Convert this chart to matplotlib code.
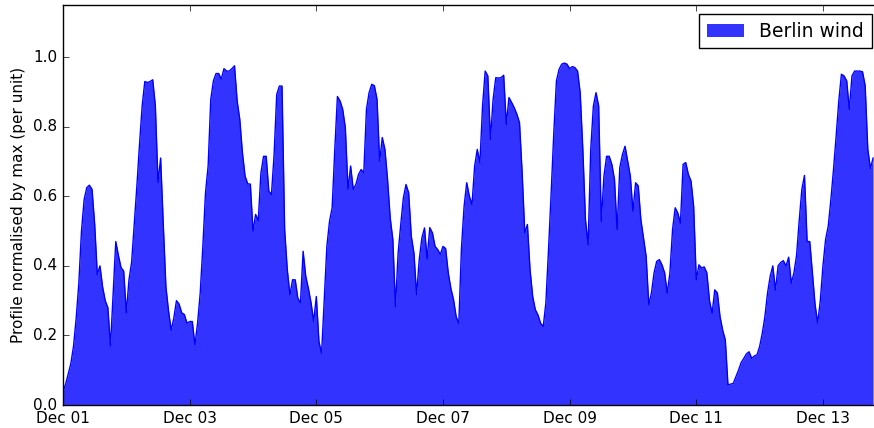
import matplotlib
matplotlib.use("Agg")
import matplotlib.pyplot as plt
import matplotlib.dates as mdates
import pandas as pd

# hourly wind profile, normalised by max
start = "2015-12-01 00:00"
series_label = "Berlin wind"
wind = [
    0.04, 0.06, 0.09, 0.12, 0.17, 0.25, 0.35, 0.50, 0.59, 0.625, 0.632, 0.62,
    0.52, 0.375, 0.40, 0.34, 0.30, 0.28, 0.17, 0.32, 0.47, 0.43, 0.395, 0.385,
    0.265, 0.36, 0.41, 0.52, 0.63, 0.75, 0.86, 0.93, 0.927, 0.93, 0.935, 0.86,
    0.64, 0.71, 0.52, 0.34, 0.27, 0.215, 0.25, 0.30, 0.29, 0.265, 0.26, 0.235,
    0.24, 0.24, 0.173, 0.235, 0.322, 0.456, 0.61, 0.687, 0.879, 0.932, 0.953, 0.953,
    0.937, 0.967, 0.96, 0.96, 0.967, 0.975, 0.874, 0.821, 0.725, 0.658, 0.636, 0.635,
    0.50, 0.548, 0.53, 0.667, 0.715, 0.715, 0.615, 0.605, 0.72, 0.893, 0.917, 0.917,
    0.504, 0.389, 0.317, 0.36, 0.36, 0.307, 0.294, 0.442, 0.37, 0.335, 0.294, 0.24,
    0.312, 0.182, 0.149, 0.303, 0.456, 0.528, 0.567, 0.735, 0.887, 0.874, 0.85, 0.797,
    0.62, 0.687, 0.62, 0.634, 0.663, 0.677, 0.668, 0.85, 0.898, 0.922, 0.918, 0.879,
    0.701, 0.769, 0.735, 0.648, 0.538, 0.476, 0.283, 0.437, 0.519, 0.596, 0.634, 0.61,
    0.485, 0.437, 0.317, 0.418, 0.48, 0.509, 0.42, 0.51, 0.495, 0.456, 0.447, 0.433,
    0.456, 0.45, 0.38, 0.335, 0.303, 0.254, 0.235, 0.45, 0.571, 0.639, 0.60, 0.576,
    0.687, 0.735, 0.696, 0.86, 0.96, 0.946, 0.764, 0.879, 0.941, 0.94, 0.941, 0.948,
    0.807, 0.884, 0.87, 0.855, 0.836, 0.812, 0.668, 0.495, 0.519, 0.389, 0.312, 0.274,
    0.259, 0.235, 0.226, 0.294, 0.447, 0.61, 0.783, 0.932, 0.965, 0.98, 0.983, 0.98,
    0.967, 0.973, 0.97, 0.96, 0.898, 0.735, 0.533, 0.461, 0.735, 0.86, 0.898, 0.86,
    0.528, 0.658, 0.715, 0.715, 0.692, 0.648, 0.504, 0.682, 0.72, 0.744, 0.701, 0.658,
    0.557, 0.639, 0.63, 0.533, 0.48, 0.427, 0.288, 0.322, 0.38, 0.413, 0.418, 0.403,
    0.38, 0.322, 0.38, 0.504, 0.567, 0.552, 0.523, 0.692, 0.697, 0.663, 0.644, 0.571,
    0.36, 0.403, 0.394, 0.397, 0.38, 0.30, 0.264, 0.331, 0.322, 0.254, 0.215, 0.187,
    0.058, 0.06, 0.062, 0.081, 0.10, 0.122, 0.134, 0.147, 0.153, 0.134, 0.141, 0.144,
    0.168, 0.206, 0.254, 0.322, 0.37, 0.40, 0.33, 0.40, 0.41, 0.415, 0.40, 0.425,
    0.35, 0.38, 0.43, 0.53, 0.62, 0.66, 0.47, 0.47, 0.38, 0.29, 0.235, 0.30,
    0.40, 0.476, 0.514, 0.59, 0.677, 0.773, 0.874, 0.951, 0.946, 0.932, 0.85, 0.946,
    0.96, 0.96, 0.96, 0.958, 0.918, 0.735, 0.68, 0.71,
]

times = pd.date_range(start, periods=len(wind), freq="h")
x_end = pd.Timestamp(start) + pd.Timedelta(hours=310)

plt.style.use("classic")
fig = plt.figure(figsize=(8.74, 4.28), dpi=100)
# axes runs a little past the right edge of the picture, as in the reference
ax = fig.add_axes([63 / 874, 23 / 428, 818 / 874, 400 / 428])

ax.fill_between(times, 0, wind, color="b", alpha=0.8, lw=0, label=series_label)
ax.plot(times, wind, color="b", lw=1)

ax.set_xlim(times[0], x_end)
ax.set_ylim(0, 1.15)
ax.set_ylabel("Profile normalised by max (per unit)", fontsize=11)
ax.xaxis.set_major_locator(mdates.DayLocator(bymonthday=range(1, 32, 2)))
ax.xaxis.set_major_formatter(mdates.DateFormatter("%b %d"))
ax.tick_params(labelsize=11, direction="in", top=True, right=True)
ax.legend(loc="upper right", fontsize=13.5)

fig.savefig("out.png", dpi=100)
